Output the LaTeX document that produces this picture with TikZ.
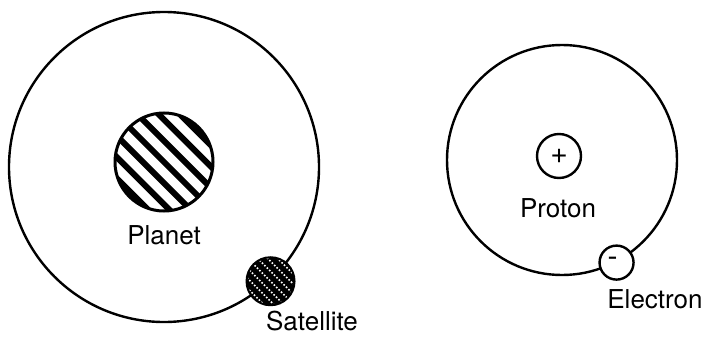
\documentclass[tikz,border=0pt]{standalone}
\usepackage{fontspec}
\setmainfont{TeX Gyre Heros}
\begin{document}
\begin{tikzpicture}[x=1pt,y=-1pt,
  orbit/.style={circle,draw,line width=2.4pt,inner sep=0pt},
  lbl/.style={anchor=base,inner sep=0pt,font=\fontsize{26}{30}\selectfont},
  particle/.style={circle,draw,line width=2.4pt,fill=white,inner sep=0pt},
  planetstyle/.style={circle,draw,line width=3pt,inner sep=0pt,minimum size=98pt,
    path picture={\foreach \k in {-5,...,5}
      \draw[line width=6pt] ([shift={(\k*10.6-90,-\k*10.6-90)}]path picture bounding box.center) -- ++(180,180);}},
  satstyle/.style={circle,draw,line width=2pt,fill=black,inner sep=0pt,minimum size=48pt,
    path picture={\foreach \k in {-3,...,3}
      \draw[white,line width=1.6pt,dash pattern=on 1.6pt off 1.8pt] ([shift={(\k*5-40,-\k*5-40)}]path picture bounding box.center) -- ++(80,80);}}
]
\useasboundingbox (0,0) rectangle (708,337);
% planet system
\node[orbit,minimum size=310pt] (orbitA) at (164,167) {};
\node[planetstyle] (planet) at (164,162) {};
\node[lbl] (planetlbl) at (164,244) {Planet};
\node[satstyle] (sat) at (orbitA.-47) {};
\node[lbl] (satlbl) at (312,330) {Satellite};
% atom
\node[orbit,minimum size=230pt] (orbitB) at (562,160) {};
\node[particle,minimum size=44pt,font=\fontsize{30}{34}\selectfont] (proton) at (559,156) {+};
\node[lbl] (protonlbl) at (558,217) {Proton};
\node[particle,minimum size=34pt] (electron) at (orbitB.-62.5) {};
\node[inner sep=0pt,font=\fontsize{30}{34}\selectfont] (minus) at ([xshift=-4pt,yshift=1pt]electron.center) {-};
\node[lbl] (electronlbl) at (655,308) {Electron};
\end{tikzpicture}
\end{document}
